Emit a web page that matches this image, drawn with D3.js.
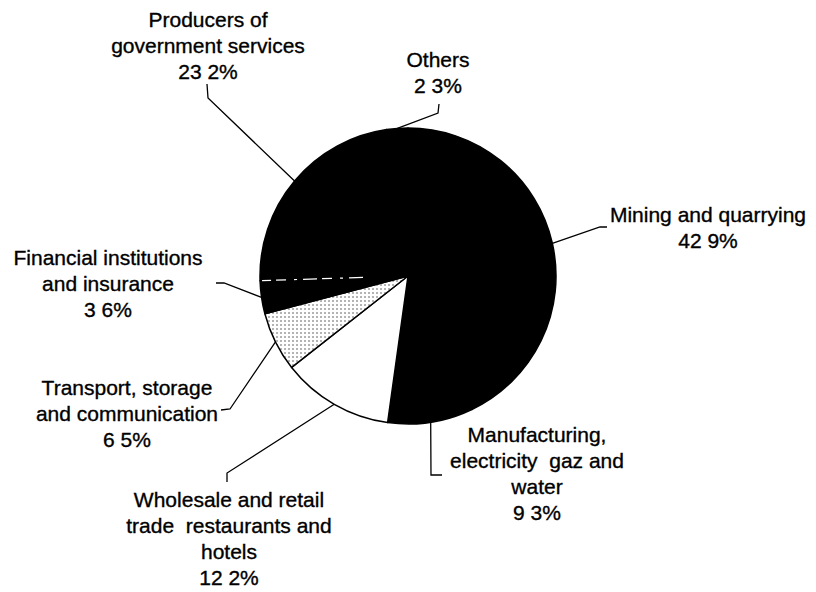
<!DOCTYPE html>
<html>
<head>
<meta charset="utf-8">
<script src="https://cdn.jsdelivr.net/npm/d3@7"></script>
<style>
  body { margin: 0; background: #fff; }
  text { font-family: "Liberation Sans", Arial, sans-serif; font-size: 21px; fill: #000; stroke: #000; stroke-width: 0.35px; white-space: pre; }
</style>
</head>
<body>
<script>
// sectors, clockwise from 12 o'clock
const categories = ["Mining", "Manufacturing", "Wholesale", "Transport", "Financial", "Producers", "Others"];
const values = [42.9, 9.3, 12.2, 6.5, 3.6, 23.2, 2.3];
const labelLines = [
  ["Mining and quarrying"],
  ["Manufacturing,", "electricity  gaz and", "water"],
  ["Wholesale and retail", "trade  restaurants and", "hotels"],
  ["Transport, storage", "and communication"],
  ["Financial institutions", "and insurance"],
  ["Producers of", "government services"],
  ["Others"]
];

const width = 816, height = 592;
const cx = 408, cy = 276, r = 148;
const lineH = 26;

// label anchor (centre of first baseline) and leader elbow/end points
const layout = {
  Mining:        { x: 708, y: 222, elbow: [600, 227], end: [607, 227] },
  Manufacturing: { x: 537, y: 442, elbow: [431, 475], end: [442, 475] },
  Wholesale:     { x: 229, y: 507, elbow: [227, 473], end: [227, 482] },
  Transport:     { x: 127, y: 395, elbow: [230, 409], end: [221, 410] },
  Financial:     { x: 108, y: 265, elbow: [224, 283], end: [216, 283] },
  Producers:     { x: 208, y: 27,  elbow: [208, 98],  end: [207, 84] },
  Others:        { x: 438, y: 67,  elbow: [438, 113], end: [439, 104] }
};

const fill = d3.scaleOrdinal()
  .domain(categories)
  .range(["#000", "#000", "#fff", "url(#stipple)", "#000", "#000", "#000"]);

const svg = d3.select("body").append("svg")
  .attr("width", width)
  .attr("height", height);

const pat = svg.append("defs").append("pattern")
  .attr("id", "stipple")
  .attr("patternUnits", "userSpaceOnUse")
  .attr("width", 4).attr("height", 4);
pat.append("rect").attr("width", 4).attr("height", 4).attr("fill", "#fff");
pat.append("circle").attr("cx", 1).attr("cy", 1).attr("r", 0.8).attr("fill", "#555");

const data = categories.map((c, i) => ({ cat: c, value: values[i], lines: labelLines[i] }));

const pie = d3.pie().value(d => d.value).sort(null);
const arcs = pie(data);
const arc = d3.arc().innerRadius(0).outerRadius(r);

const g = svg.append("g").attr("transform", `translate(${cx},${cy})`);

g.selectAll("path.slice")
  .data(arcs)
  .enter().append("path")
    .attr("class", "slice")
    .attr("d", arc)
    .attr("fill", d => fill(d.data.cat))
    .attr("stroke", "#000")
    .attr("stroke-width", 1.5)
    .attr("stroke-linejoin", "round");

// faint white dashed edge between financial and producers
const fin = arcs.find(d => d.data.cat === "Financial");
g.append("line")
  .attr("x1", 45 * Math.sin(fin.endAngle)).attr("y1", -45 * Math.cos(fin.endAngle))
  .attr("x2", (r - 2) * Math.sin(fin.endAngle)).attr("y2", -(r - 2) * Math.cos(fin.endAngle))
  .attr("stroke", "#fff")
  .attr("stroke-width", 1.2)
  .attr("stroke-dasharray", "14 6 3 8 10 5");

// leader lines
svg.append("g")
  .selectAll("path")
  .data(arcs)
  .enter().append("path")
    .attr("fill", "none")
    .attr("stroke", "#000")
    .attr("stroke-width", 1.3)
    .attr("d", d => {
      const a = (d.startAngle + d.endAngle) / 2;
      const L = layout[d.data.cat];
      const p0 = [cx + r * Math.sin(a), cy - r * Math.cos(a)];
      return d3.line()([p0, L.elbow, L.end]);
    });

// labels
const labels = svg.append("g")
  .attr("text-anchor", "middle")
  .selectAll("text")
  .data(data)
  .enter().append("text")
    .attr("x", d => layout[d.cat].x)
    .attr("y", d => layout[d.cat].y);

labels.selectAll("tspan")
  .data(d => d.lines.concat([String(d.value).replace(".", " ") + "%"]).map(t => ({ t, x: layout[d.cat].x })))
  .enter().append("tspan")
    .attr("x", d => d.x)
    .attr("dy", (d, i) => i === 0 ? 0 : lineH)
    .text(d => d.t);
</script>
</body>
</html>
